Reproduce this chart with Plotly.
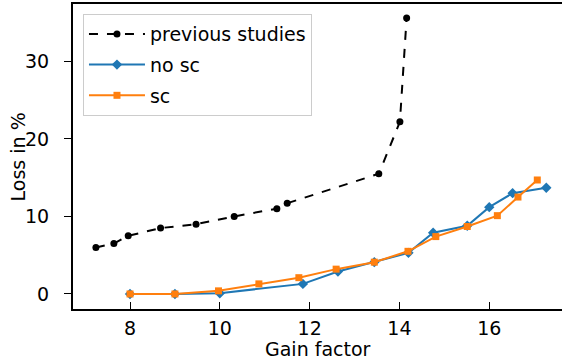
import plotly.graph_objects as go

prev_x = [7.24, 7.64, 7.96, 8.68, 9.47, 10.32, 11.27, 11.5, 13.54, 14.01, 14.16]
prev_y = [6.0, 6.5, 7.5, 8.5, 9.0, 10.0, 11.0, 11.7, 15.5, 22.2, 35.6]

nosc_x = [8.0, 9.0, 10.0, 11.85, 12.63, 13.44, 14.2, 14.75, 15.51, 16.0, 16.52, 17.27]
nosc_y = [0.0, 0.0, 0.1, 1.3, 2.9, 4.1, 5.3, 7.9, 8.8, 11.2, 13.0, 13.7]

sc_x = [8.0, 9.0, 9.97, 10.87, 11.76, 12.59, 13.44, 14.19, 14.81, 15.51, 16.18, 16.64, 17.07]
sc_y = [0.0, 0.0, 0.4, 1.3, 2.1, 3.2, 4.1, 5.5, 7.4, 8.7, 10.1, 12.5, 14.7]

x_ticks = [8, 10, 12, 14, 16]
y_ticks = [0, 10, 20, 30]

FONT = "DejaVu Sans"
FS = 19

fig = go.Figure()
fig.add_trace(go.Scatter(x=prev_x, y=prev_y, mode="lines+markers", name="previous studies",
                         legendgroup="a",
                         line=dict(color="black", width=2, dash="dash"),
                         marker=dict(symbol="circle", size=7, color="black")))
fig.add_trace(go.Scatter(x=nosc_x, y=nosc_y, mode="lines+markers", name="no sc",
                         legendgroup="b",
                         line=dict(color="#1f77b4", width=2),
                         marker=dict(symbol="diamond", size=8, color="#1f77b4")))
fig.add_trace(go.Scatter(x=sc_x, y=sc_y, mode="lines+markers", name="sc",
                         legendgroup="c",
                         line=dict(color="#ff7f0e", width=2),
                         marker=dict(symbol="square", size=7, color="#ff7f0e")))

tickfont = dict(family=FONT, size=FS, color="black")

fig.update_xaxes(range=[6.73, 17.62], tickvals=x_ticks, showgrid=False, zeroline=False,
                 showline=True, linecolor="black", linewidth=2, mirror=True,
                 ticks="inside", ticklen=7, tickwidth=1, tickcolor="black",
                 tickfont=tickfont, automargin=False, ticklabelstandoff=1)
fig.update_yaxes(range=[-1.94, 37.4], tickvals=y_ticks, showgrid=False, zeroline=False,
                 showline=True, linecolor="black", linewidth=2, mirror=False,
                 ticks="outside", ticklen=7, tickwidth=1, tickcolor="black",
                 tickfont=tickfont, automargin=False, ticklabelstandoff=11)

fig.update_layout(
    width=562, height=362,
    margin=dict(l=73, r=0, t=4, b=53),
    plot_bgcolor="white", paper_bgcolor="white",
    font=dict(family=FONT, size=FS, color="black"),
    showlegend=True,
    legend=dict(x=0.0204, y=0.967, xanchor="left", yanchor="top",
                bgcolor="rgba(255,255,255,0.8)", bordercolor="#cccccc", borderwidth=1,
                font=dict(family=FONT, size=FS, color="black"),
                itemwidth=56, tracegroupgap=3),
    annotations=[
        dict(text="Gain factor", xref="paper", yref="paper", x=0.5, y=-0.13,
             xanchor="center", yanchor="middle", showarrow=False,
             font=dict(family=FONT, size=FS, color="black")),
        dict(text="Loss in %", xref="paper", yref="paper", x=-0.1126, y=0.5,
             xanchor="center", yanchor="middle", showarrow=False, textangle=-90,
             font=dict(family=FONT, size=FS, color="black")),
    ],
)

fig.write_html("out.html", config={"displayModeBar": False},
               post_script="document.body.style.margin='0';")
